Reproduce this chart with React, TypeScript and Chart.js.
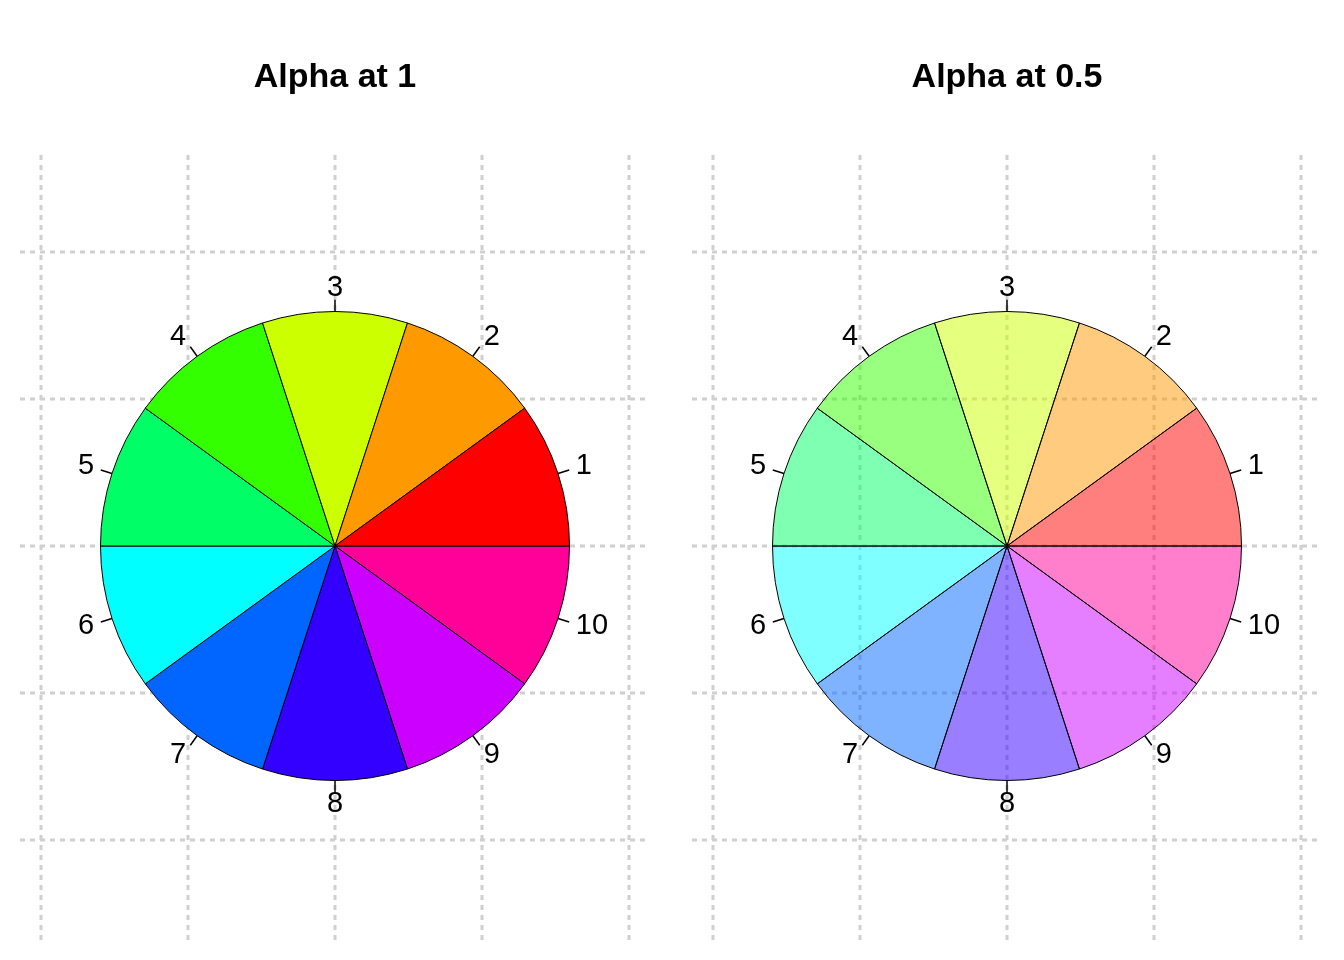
import React, { useRef, useEffect } from 'react';
import { Chart, registerables } from 'chart.js';

Chart.register(...registerables);

// pie(rep(1,10), col = rainbow(10)) -- slices go counter-clockwise from 3 o'clock
const sliceLabels = ['1', '2', '3', '4', '5', '6', '7', '8', '9', '10'];
const sliceValues = [1, 1, 1, 1, 1, 1, 1, 1, 1, 1];
const sliceColors = [
  [255, 0, 0], [255, 153, 0], [204, 255, 0], [51, 255, 0], [0, 255, 102],
  [0, 255, 255], [0, 102, 255], [51, 0, 255], [204, 0, 255], [255, 0, 153],
];
const gridSteps = [-2, -1, 0, 1, 2];

const W = 672;
const H = 960;

const PiePanel: React.FC<{ title: string; alpha: number }> = ({ title, alpha }) => {
  const chartRef = useRef<HTMLCanvasElement | null>(null);
  const chartInstance = useRef<Chart | null>(null);

  useEffect(() => {
    if (chartInstance.current) chartInstance.current.destroy();
    const ctx = chartRef.current?.getContext('2d');
    if (!ctx) return;

    // Chart.js draws clockwise, so reverse the order
    const labels = [...sliceLabels].reverse();
    const values = [...sliceValues].reverse();
    const colors = [...sliceColors].reverse().map(c => `rgba(${c[0]},${c[1]},${c[2]},${alpha})`);

    const decor = {
      id: 'decor',
      beforeDatasetsDraw(chart: any) {
        const c = chart.ctx;
        const a = chart.chartArea;
        const cx = (a.left + a.right) / 2;
        const cy = (a.top + a.bottom) / 2;
        const step = 147;
        c.save();
        c.strokeStyle = '#d0d0d0';
        c.lineWidth = 3;
        c.setLineDash([5, 5]);
        gridSteps.forEach(k => {
          c.beginPath();
          c.moveTo(cx + k * step, 155);
          c.lineTo(cx + k * step, 940);
          c.stroke();
          c.beginPath();
          c.moveTo(20, cy + k * step);
          c.lineTo(650, cy + k * step);
          c.stroke();
        });
        c.restore();
      },
      afterDatasetsDraw(chart: any) {
        const c = chart.ctx;
        const meta = chart.getDatasetMeta(0);
        c.save();
        c.fillStyle = '#000';
        c.font = 'bold 34px "Liberation Sans", Arial, sans-serif';
        c.textAlign = 'center';
        c.textBaseline = 'middle';
        c.fillText(title, 335, 78);
        c.font = '29px "Liberation Sans", Arial, sans-serif';
        c.strokeStyle = '#000';
        c.lineWidth = 1.5;
        meta.data.forEach((arc: any, i: number) => {
          const { x, y, startAngle, endAngle, outerRadius } = arc.getProps(
            ['x', 'y', 'startAngle', 'endAngle', 'outerRadius'], true);
          const mid = (startAngle + endAngle) / 2;
          const cos = Math.cos(mid), sin = Math.sin(mid);
          c.beginPath();
          c.moveTo(x + cos * outerRadius, y + sin * outerRadius);
          c.lineTo(x + cos * outerRadius * 1.05, y + sin * outerRadius * 1.05);
          c.stroke();
          c.textAlign = Math.abs(cos) < 0.2 ? 'center' : cos > 0 ? 'left' : 'right';
          c.fillText(labels[i], x + cos * outerRadius * 1.08, y + sin * outerRadius * 1.1);
        });
        c.restore();
      },
    };

    chartInstance.current = new Chart(ctx, {
      type: 'pie',
      data: {
        labels,
        datasets: [{ data: values, backgroundColor: colors, borderColor: '#000', borderWidth: 1 }],
      },
      options: {
        responsive: false,
        animation: false,
        rotation: 90,
        layout: { padding: { left: 100, right: 102, top: 311, bottom: 179 } },
        plugins: { legend: { display: false }, tooltip: { enabled: false } },
      },
      plugins: [decor],
    });

    return () => {
      if (chartInstance.current) chartInstance.current.destroy();
    };
  }, []);

  return <canvas ref={chartRef} width={W} height={H} style={{ width: W, height: H, display: 'block' }} />;
};

export default function App() {
  useEffect(() => {
    document.body.style.margin = '0';
  }, []);
  return (
    <div style={{ display: 'flex', width: 1344, height: 960, background: '#fff' }}>
      <PiePanel title="Alpha at 1" alpha={1} />
      <PiePanel title="Alpha at 0.5" alpha={0.5} />
    </div>
  );
}
